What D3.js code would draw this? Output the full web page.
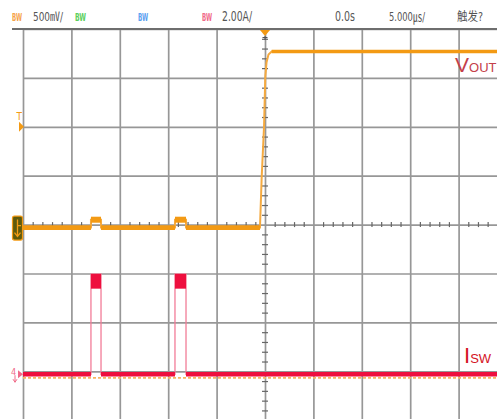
<!DOCTYPE html>
<html>
<head>
<meta charset="utf-8">
<script src="https://cdn.jsdelivr.net/npm/d3@7"></script>
<style>
  html, body { margin: 0; padding: 0; background: #fff; }
  svg { display: block; }
</style>
</head>
<body>
<svg id="scope" width="497" height="419"></svg>
<script>
// Time base: 5 µs/div, 10 divisions centred on the trigger (0 s)
const timeDomain = [-25, 25];          // µs
const divDomain = [-4, 4];             // vertical divisions
const voutScale = 0.5;                 // V per div (500 mV/div)
const iswScale = 2.0;                  // A per div
const voutOffsetDiv = -0.06;           // CH1 ground position
const iswOffsetDiv = -3.06;            // CH4 ground position

// CH1: output voltage (µs, V)
const voutT = [-25, -17.98, -17.98, -16.94, -16.94, -9.30, -9.30, -8.16, -8.16, -0.52, -0.34, -0.10, 0.03, 0.16, 0.36, 0.69, 25];
const voutV = [0, 0, 0.08, 0.08, 0, 0, 0.08, 0.08, 0, 0, 0.52, 1.03, 1.54, 1.69, 1.77, 1.80, 1.80];

// CH4: switch current (µs, A)
const iswT = [-25, -17.98, -17.98, -16.94, -16.94, -9.30, -9.30, -8.16, -8.16, 25];
const iswA = [0, 0, 4.1, 4.1, 0, 0, 4.1, 4.1, 0, 0];

// Current pulses: plateau envelope (peak / ripple low)
const pulseStart = [-17.98, -9.30];
const pulseEnd = [-16.94, -8.16];
const pulsePeak = [4.1, 4.1];
const pulseLow = [3.5, 3.5];
const refLevelA = -0.15;               // dotted reference under CH4

// Header read-out
const headerItems = [
  { text: "BW", x: 12, w: 10, color: "#f5a24a", size: 10.5, bold: true },
  { text: "500㎷/", x: 33, w: 30, color: "#555", size: 12.5 },
  { text: "BW", x: 75, w: 11, color: "#5ccf5c", size: 10.5, bold: true },
  { text: "BW", x: 138, w: 10, color: "#5aa0f0", size: 10.5, bold: true },
  { text: "BW", x: 202, w: 10, color: "#f06a88", size: 10.5, bold: true },
  { text: "2.00A/", x: 222, w: 30, color: "#555", size: 14 },
  { text: "0.0s", x: 335, w: 20, color: "#555", size: 14 },
  { text: "5.000㎲/", x: 389, w: 36, color: "#555", size: 13 },
  { text: "触发?", x: 457, w: 26, color: "#555", size: 12.5 }
];

const svg = d3.select("#scope");
const W = 497, H = 419;
const plotLeft = 23, plotTop = 29;

const x = d3.scaleLinear().domain(timeDomain).range([23, 507]);
const yDiv = d3.scaleLinear().domain(divDomain).range([420.2, 29]);
const y1 = v => yDiv(v / voutScale + voutOffsetDiv);
const y4 = a => yDiv(a / iswScale + iswOffsetDiv);

const ORANGE = "#f39a14";
const RED = "#ee0f3e";
const GRID = "#979797";

// clip to the graticule area
svg.append("defs").append("clipPath").attr("id", "plotClip")
  .append("rect").attr("x", plotLeft).attr("y", plotTop)
  .attr("width", W - plotLeft).attr("height", H - plotTop);

// Graticule: major divisions via axes
const gridX = svg.append("g").attr("transform", `translate(0,${plotTop})`)
  .call(d3.axisBottom(x).tickValues(d3.range(-25, 26, 5)).tickSize(H - plotTop).tickFormat(""));
gridX.select(".domain").remove();
gridX.selectAll("line").attr("stroke", GRID).attr("stroke-width", 1.7);

const gridY = svg.append("g").attr("transform", `translate(${plotLeft},0)`)
  .call(d3.axisRight(yDiv).tickValues(d3.range(-3, 5, 1)).tickSize(W - plotLeft).tickFormat(""));
gridY.select(".domain").remove();
gridY.selectAll("line").attr("stroke", GRID).attr("stroke-width", 1.7);

// top rule of the graticule
svg.append("line").attr("x1", 12).attr("x2", W)
  .attr("y1", yDiv(4)).attr("y2", yDiv(4))
  .attr("stroke", "#6e6e6e").attr("stroke-width", 1.8);

// minor ticks on the centre axes (1/5 division)
const minorT = d3.range(-25, 25.01, 1).filter(t => Math.abs(t % 5) > 1e-6);
const cx = svg.append("g").attr("transform", `translate(0,${yDiv(0) - 2.5})`)
  .call(d3.axisBottom(x).tickValues(minorT).tickSize(5).tickFormat(""));
cx.select(".domain").remove();
cx.selectAll("line").attr("stroke", "#666").attr("stroke-width", 1.2);

const minorDiv = d3.range(-4, 4.01, 0.2).filter(d => Math.abs(d - Math.round(d)) > 1e-6);
const cy = svg.append("g").attr("transform", `translate(${x(0) - 3},0)`)
  .call(d3.axisRight(yDiv).tickValues(minorDiv).tickSize(6).tickFormat(""));
cy.select(".domain").remove();
cy.selectAll("line").attr("stroke", "#666").attr("stroke-width", 1.2);

// Traces
const traces = svg.append("g").attr("clip-path", "url(#plotClip)");

// dotted reference line beneath CH4
traces.append("line")
  .attr("x1", plotLeft).attr("x2", W)
  .attr("y1", y4(refLevelA)).attr("y2", y4(refLevelA))
  .attr("stroke", "#f7b560").attr("stroke-width", 1.6)
  .attr("stroke-dasharray", "3,2");

// helper: flat runs of a series
function flatRuns(ts, vs, pred) {
  const runs = [];
  for (let i = 0; i < ts.length - 1; i++) {
    if (vs[i] === vs[i + 1] && ts[i] !== ts[i + 1] && pred(vs[i])) {
      runs.push([[ts[i], vs[i]], [ts[i + 1], vs[i + 1]]]);
    }
  }
  return runs;
}

// CH4 switch current
const iswPts = iswT.map((t, i) => [t, iswA[i]]);
const iswLine = d3.line().x(d => x(d[0])).y(d => y4(d[1]));
traces.append("path").datum(iswPts).attr("d", iswLine)
  .attr("fill", "none").attr("stroke", "#f27d98").attr("stroke-width", 1.3);
traces.selectAll("rect.pulse").data(pulseStart.map((s, i) => ({ s, e: pulseEnd[i], hi: pulsePeak[i], lo: pulseLow[i] })))
  .join("rect").attr("class", "pulse")
  .attr("x", d => x(d.s)).attr("width", d => x(d.e) - x(d.s))
  .attr("y", d => y4(d.hi)).attr("height", d => y4(d.lo) - y4(d.hi))
  .attr("fill", RED);
traces.selectAll("path.iswflat").data(flatRuns(iswT, iswA, v => v === 0))
  .join("path").attr("class", "iswflat").attr("d", iswLine)
  .attr("fill", "none").attr("stroke", RED).attr("stroke-width", 4.5);

// CH1 output voltage
const voutPts = voutT.map((t, i) => [t, voutV[i]]);
const voutLine = d3.line().x(d => x(d[0])).y(d => y1(d[1]));
traces.append("path").datum(voutPts).attr("d", voutLine)
  .attr("fill", "none").attr("stroke", "#f5aa40").attr("stroke-width", 2);
traces.selectAll("path.voutflat").data(flatRuns(voutT, voutV, () => true))
  .join("path").attr("class", "voutflat").attr("d", voutLine)
  .attr("fill", "none").attr("stroke", ORANGE)
  .attr("stroke-width", d => d[0][1] > 1 ? 3.5 : (d[0][1] > 0 ? 6 : 4.8));

// Header read-out
const header = svg.append("g").attr("font-family", "'DejaVu Sans Condensed', 'DejaVu Sans', 'Noto Sans CJK SC', sans-serif");
header.selectAll("text").data(headerItems).join("text")
  .attr("x", d => d.x).attr("y", 21)
  .attr("font-size", d => d.size)
  .attr("font-weight", d => d.bold ? "bold" : "normal")
  .attr("fill", d => d.color)
  .attr("textLength", d => d.w).attr("lengthAdjust", "spacingAndGlyphs")
  .text(d => d.text);

// Trigger position marker (top)
const tx = x(0);
svg.append("path")
  .attr("d", `M${tx - 5},${plotTop + 1}L${tx + 5},${plotTop + 1}L${tx},${plotTop + 7}Z`)
  .attr("fill", ORANGE);
svg.append("path")
  .attr("d", `M${tx - 2.5},${plotTop + 8.5}L${tx + 2.5},${plotTop + 8.5}M${tx},${plotTop + 7}L${tx},${plotTop + 11}`)
  .attr("stroke", "#555").attr("stroke-width", 1);

// Trigger level marker (left)
const trigY = yDiv(2);
svg.append("text").attr("x", 16.5).attr("y", trigY - 7)
  .attr("font-family", "'DejaVu Sans Condensed', sans-serif").attr("font-size", 10)
  .attr("fill", ORANGE).text("T");
svg.append("path")
  .attr("d", `M${plotLeft - 4},${trigY - 5}L${plotLeft + 1},${trigY}L${plotLeft - 4},${trigY + 5}Z`)
  .attr("fill", ORANGE);

// CH1 ground marker
const g1 = y1(0);
svg.append("rect").attr("x", 12.5).attr("y", g1 - 11.5).attr("width", 10).attr("height", 24)
  .attr("rx", 2).attr("fill", "#5f5a0c").attr("stroke", ORANGE).attr("stroke-width", 1.2);
svg.append("path")
  .attr("d", `M17.5,${g1 - 8}L17.5,${g1 + 8}M14.5,${g1 + 5}L17.5,${g1 + 9}L20.5,${g1 + 5}M17.5,${g1 - 2}L21,${g1 - 2}`)
  .attr("stroke", ORANGE).attr("stroke-width", 1.3).attr("fill", "none");

// CH4 ground marker
const g4 = y4(0);
svg.append("text").attr("x", 11).attr("y", g4 + 1)
  .attr("font-family", "'DejaVu Sans Condensed', sans-serif").attr("font-size", 9)
  .attr("fill", "#f06a88").text("4");
svg.append("path")
  .attr("d", `M${plotLeft - 5},${g4 - 4}L${plotLeft},${g4}L${plotLeft - 5},${g4 + 4}Z`)
  .attr("fill", "#f06a88");
svg.append("path")
  .attr("d", `M15,${g4 + 1}L15,${g4 + 8}M13,${g4 + 5}L15,${g4 + 8}L17,${g4 + 5}`)
  .attr("stroke", "#f06a88").attr("stroke-width", 1).attr("fill", "none");

// Trace labels
const lblFont = "'Liberation Sans', Arial, sans-serif";
const vl = svg.append("text").attr("x", 455).attr("y", 71.5).attr("font-family", lblFont).attr("fill", "#c4404a");
vl.append("tspan").attr("font-size", 21).text("V");
vl.append("tspan").attr("font-size", 13).text("OUT");
const il = svg.append("text").attr("x", 464).attr("y", 363).attr("font-family", lblFont).attr("fill", "#d41224");
il.append("tspan").attr("font-size", 22).text("I");
il.append("tspan").attr("font-size", 13).text("SW");
</script>
</body>
</html>
